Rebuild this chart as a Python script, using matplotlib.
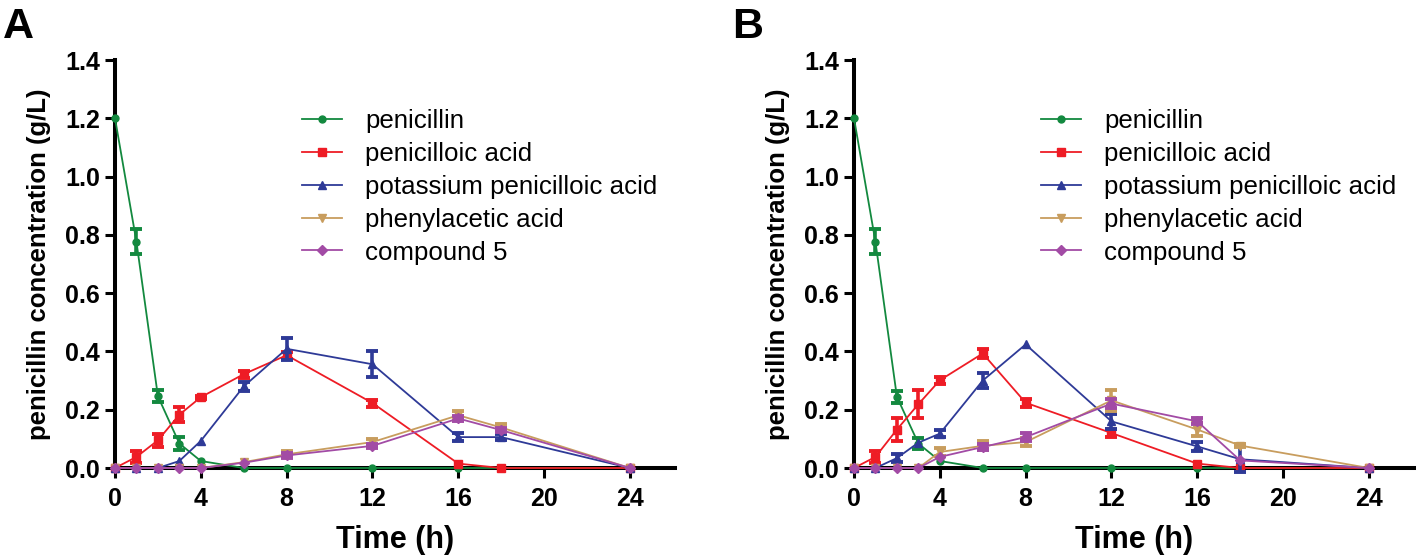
import matplotlib
matplotlib.use("Agg")
import matplotlib.pyplot as plt
import numpy as np

plt.rcParams['font.family'] = ['Liberation Sans', 'DejaVu Sans']

time_h = [0, 1, 2, 3, 4, 6, 8, 12, 16, 18, 24]
series_names = ["penicillin", "penicilloic acid", "potassium penicilloic acid",
                "phenylacetic acid", "compound 5"]

# Panel A
a_penicillin = [1.20, 0.776, 0.246, 0.084, 0.024, 0, 0, 0, 0, 0, 0]
a_penicillin_err = [0, 0.043, 0.021, 0.021, 0, 0, 0, 0, 0, 0, 0]
a_penicilloic = [0, 0.038, 0.095, 0.183, 0.243, 0.322, 0.387, 0.223, 0.015, 0, 0]
a_penicilloic_err = [0, 0.022, 0.023, 0.025, 0.005, 0.012, 0.012, 0.012, 0, 0, 0]
a_potassium = [0, 0, 0, 0.024, 0.093, 0.280, 0.409, 0.356, 0.106, 0.106, 0]
a_potassium_err = [0, 0, 0, 0, 0, 0.015, 0.037, 0.044, 0.015, 0.010, 0]
a_phenylacetic = [0, 0, 0, 0, 0, 0.020, 0.047, 0.089, 0.181, 0.139, 0]
a_phenylacetic_err = [0, 0, 0, 0, 0, 0, 0.010, 0.010, 0.015, 0.013, 0]
a_compound5 = [0, 0, 0, 0, 0, 0.018, 0.043, 0.076, 0.170, 0.130, 0]
a_compound5_err = [0, 0, 0, 0, 0, 0, 0.010, 0.008, 0.010, 0.008, 0]

# Panel B
b_penicillin = [1.20, 0.776, 0.244, 0.084, 0.024, 0, 0, 0, 0, 0, 0]
b_penicillin_err = [0, 0.043, 0.020, 0.020, 0, 0, 0, 0, 0, 0, 0]
b_penicilloic = [0, 0.038, 0.132, 0.219, 0.301, 0.393, 0.224, 0.120, 0.015, 0, 0]
b_penicilloic_err = [0, 0.022, 0.040, 0.049, 0.012, 0.015, 0.013, 0.013, 0, 0, 0]
b_potassium = [0, 0, 0.034, 0.087, 0.118, 0.300, 0.424, 0.160, 0.074, 0.030, 0]
b_potassium_err = [0, 0, 0.014, 0, 0.013, 0.027, 0, 0.025, 0.014, 0.045, 0]
b_phenylacetic = [0, 0, 0, 0, 0.055, 0.076, 0.089, 0.232, 0.132, 0.077, 0]
b_phenylacetic_err = [0, 0, 0, 0, 0.013, 0.015, 0.015, 0.035, 0.022, 0.005, 0]
b_compound5 = [0, 0, 0, 0, 0.038, 0.072, 0.106, 0.221, 0.160, 0.026, 0]
b_compound5_err = [0, 0, 0, 0, 0, 0.010, 0.013, 0.015, 0.010, 0, 0]

x_ticks = [0, 4, 8, 12, 16, 20, 24]
y_ticks = [0.0, 0.2, 0.4, 0.6, 0.8, 1.0, 1.2, 1.4]
y_tick_labels = ["0.0", "0.2", "0.4", "0.6", "0.8", "1.0", "1.2", "1.4"]

colors = ["#13893f", "#ee1c25", "#2e3a97", "#c89d5e", "#a24ba5"]
markers = ["o", "s", "^", "v", "D"]
msizes = [5, 5.5, 5.5, 5.5, 5]

W, H = 1418, 558
fig = plt.figure(figsize=(W / 100, H / 100), dpi=100)

def px_axes(left, right, top, bottom):
    return fig.add_axes([left / W, 1 - bottom / H, (right - left) / W, (bottom - top) / H])

panels = [
    ("A", 115, [a_penicillin, a_penicilloic, a_potassium, a_phenylacetic, a_compound5],
     [a_penicillin_err, a_penicilloic_err, a_potassium_err, a_phenylacetic_err, a_compound5_err]),
    ("B", 854, [b_penicillin, b_penicilloic, b_potassium, b_phenylacetic, b_compound5],
     [b_penicillin_err, b_penicilloic_err, b_potassium_err, b_phenylacetic_err, b_compound5_err]),
]

label_x = {"A": 3, "B": 732}
t_arr = np.array(time_h)

for letter, left, vals, errs in panels:
    ax = px_axes(left, left + 560, 60, 468)
    for i in range(5):
        v = np.array(vals[i])
        e = np.array(errs[i])
        m = e > 0
        if m.any():
            ax.errorbar(t_arr[m], v[m], yerr=e[m], fmt='none', ecolor=colors[i],
                        elinewidth=2.6, capsize=4.0, capthick=2.8, clip_on=False,
                        zorder=3 + i)
        ax.plot(time_h, v, color=colors[i], marker=markers[i], markersize=msizes[i],
                linewidth=1.3, label=series_names[i], clip_on=False, zorder=3 + i)
    ax.set_xlim(0, 26.1)
    ax.set_ylim(0, 1.4)
    ax.set_xticks(x_ticks)
    ax.set_xticklabels([str(t) for t in x_ticks])
    ax.set_yticks(y_ticks)
    ax.set_yticklabels(y_tick_labels)
    for s in ["top", "right"]:
        ax.spines[s].set_visible(False)
    for s in ["left", "bottom"]:
        ax.spines[s].set_linewidth(2.9)
        ax.spines[s].set_zorder(2)
    ax.tick_params(axis='both', direction='out', length=7.2, width=2.2,
                   labelsize=18)
    ax.tick_params(axis='x', pad=6.5)
    ax.tick_params(axis='y', pad=3.6)
    for lab in ax.get_xticklabels() + ax.get_yticklabels():
        lab.set_fontweight('bold')
    ax.legend(loc='upper left', bbox_to_anchor=(0.334, 0.879), frameon=False,
              fontsize=18.6, handlelength=1.55, handletextpad=0.9,
              labelspacing=0.34, borderpad=0, borderaxespad=0, numpoints=1)
    # y label
    fig.text((left - 76) / W, 1 - 264 / H, "penicillin concentration (g/L)",
             rotation=90, ha='center', va='center', fontsize=18.5, fontweight='bold')
    # x label
    fig.text((left + 280) / W, 1 - 548 / H, "Time (h)", ha='center', va='baseline',
             fontsize=22, fontweight='bold')
    fig.text(label_x[letter] / W, 1 - 38 / H, letter, ha='left', va='baseline',
             fontsize=31, fontweight='bold')

fig.savefig("out.png", dpi=100)
